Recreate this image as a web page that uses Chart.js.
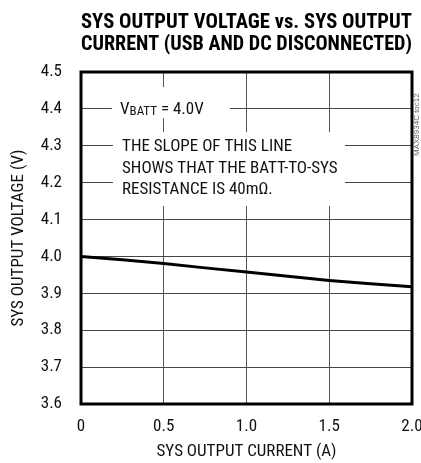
<!DOCTYPE html>
<html>
<head>
<meta charset="utf-8">
<script src="https://cdn.jsdelivr.net/npm/chart.js@4/dist/chart.umd.min.js"></script>
<style>
  html, body { margin: 0; padding: 0; background: #fff; }
  #wrap { width: 421px; height: 463px; position: relative; }
</style>
</head>
<body>
<div id="wrap"><canvas id="sysChart"></canvas></div>
<script>
const currentA = [0, 0.25, 0.5, 0.75, 1.0, 1.25, 1.5, 1.75, 2.0];
const sysVoltage = [4.0, 3.991, 3.981, 3.969, 3.958, 3.946, 3.935, 3.926, 3.918];
const xTicks = [0, 0.5, 1.0, 1.5, 2.0];
const yTicks = [3.6, 3.7, 3.8, 3.9, 4.0, 4.1, 4.2, 4.3, 4.4, 4.5];
const titleLines = ['SYS OUTPUT VOLTAGE vs. SYS OUTPUT', 'CURRENT (USB AND DC DISCONNECTED)'];
const noteLines = ['THE SLOPE OF THIS LINE', 'SHOWS THAT THE BATT-TO-SYS', 'RESISTANCE IS 40m\u03A9.'];

const COND = "'Roboto Condensed',sans-serif";

const notesPlugin = {
  id: 'notes',
  beforeDatasetsDraw(chart) {
    const { ctx: c, scales: { x, y } } = chart;
    c.save();
    // white boxes that cut the grid
    c.fillStyle = '#fff';
    const box = (x0, x1, y0, y1) => {
      const l = x.getPixelForValue(x0), r = x.getPixelForValue(x1);
      const t = y.getPixelForValue(y0), b = y.getPixelForValue(y1);
      c.fillRect(l, t, r - l, b - t);
    };
    box(0.187, 0.90, 4.459, 4.375);
    box(0.193, 1.595, 4.337, 4.137);

    c.fillStyle = '#111';
    c.textBaseline = 'middle';
    c.textAlign = 'left';
    let px = x.getPixelForValue(0.236);
    const py = y.getPixelForValue(4.397);
    c.font = '17px ' + COND;
    c.fillText('V', px, py);
    px += c.measureText('V').width;
    c.font = '13px ' + COND;
    c.fillText('BATT', px, py + 2);
    px += c.measureText('BATT').width;
    c.font = '17px ' + COND;
    c.fillText(' = 4.0V', px, py);

    const nx = x.getPixelForValue(0.248);
    const ny = [4.297, 4.237, 4.180];
    noteLines.forEach((s, i) => c.fillText(s, nx, y.getPixelForValue(ny[i])));
    c.restore();
  },
  afterDraw(chart) {
    const { ctx: c, chartArea: a } = chart;
    c.save();
    c.strokeStyle = '#000';
    c.lineWidth = 3;
    c.strokeRect(a.left, a.top, a.right - a.left, a.bottom - a.top);
    // tiny vertical part number on the right
    c.translate(a.right + 5, a.top + 84);
    c.rotate(-Math.PI / 2);
    c.fillStyle = '#666';
    c.font = "8px 'Liberation Sans',Arial,sans-serif";
    c.textBaseline = 'middle';
    c.textAlign = 'left';
    c.fillText('MAX8934C toc12', 0, 0);
    c.restore();
  }
};

function buildChart() {
  new Chart(document.getElementById('sysChart'), {
    type: 'line',
    data: {
      datasets: [{
        data: currentA.map((v, i) => ({ x: v, y: sysVoltage[i] })),
        borderColor: '#000',
        borderWidth: 3,
        pointRadius: 0,
        tension: 0,
        fill: false
      }]
    },
    options: {
      responsive: true,
      maintainAspectRatio: false,
      animation: false,
      layout: { padding: { top: 0, right: 9, bottom: 0, left: 0 } },
      plugins: {
        legend: { display: false },
        tooltip: { enabled: false },
        title: {
          display: true,
          fullSize: false,
          text: titleLines,
          color: '#000',
          font: { family: COND, size: 21, weight: 'bold', lineHeight: 22 / 21 },
          padding: { top: 12, bottom: 16 }
        }
      },
      scales: {
        x: {
          type: 'linear',
          min: 0,
          max: 2,
          afterBuildTicks: s => { s.ticks = xTicks.map(v => ({ value: v })); },
          afterFit: s => { s.height = 59; s.paddingLeft = 0; s.paddingRight = 0; },
          grid: { color: '#555', lineWidth: 1, drawTicks: false },
          border: { display: false },
          ticks: {
            color: '#111',
            padding: 13,
            font: { family: COND, size: 17 },
            callback: v => v === 0 ? '0' : v.toFixed(1)
          },
          title: {
            display: true,
            text: 'SYS OUTPUT CURRENT (A)',
            color: '#111',
            font: { family: COND, size: 17, lineHeight: 1.2 },
            padding: { top: 0, bottom: 1 }
          }
        },
        y: {
          min: 3.6,
          max: 4.5,
          afterBuildTicks: s => { s.ticks = yTicks.map(v => ({ value: v })); },
          afterFit: s => { s.width = 81; },
          grid: { color: '#444', lineWidth: 1, drawTicks: false },
          border: { display: false },
          ticks: {
            color: '#111',
            padding: 19,
            font: { family: COND, size: 17 },
            callback: v => v.toFixed(1)
          },
          title: {
            display: true,
            text: 'SYS OUTPUT VOLTAGE (V)',
            color: '#111',
            font: { family: COND, size: 17, lineHeight: 1.2 },
            padding: { top: 9, bottom: 0 }
          }
        }
      }
    },
    plugins: [notesPlugin]
  });
}

Promise.all([
  document.fonts.load("17px 'Roboto Condensed'"),
  document.fonts.load("13px 'Roboto Condensed'"),
  document.fonts.load("bold 21px 'Roboto Condensed'")
]).then(buildChart, buildChart);
</script>
</body>
</html>
